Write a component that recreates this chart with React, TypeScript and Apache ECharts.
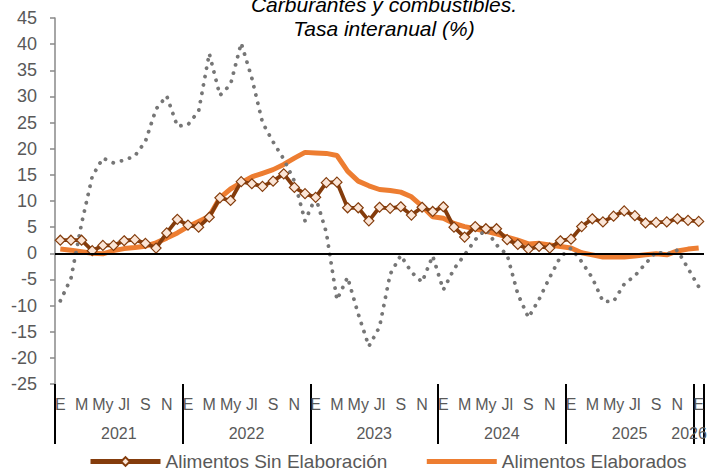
import React, { useEffect, useRef } from "react";
import * as echarts from "echarts";

const monthNames = ["E", "F", "M", "A", "My", "Jn", "Jl", "Ag", "S", "O", "N", "D"];
const years = ["2021", "2022", "2023", "2024", "2025", "2026"];
const categories: string[] = [];
for (let y = 0; y < 5; y++) for (let m = 0; m < 12; m++) categories.push(monthNames[m]);
categories.push("E");

const sinElaboracion = [
  2.5, 2.5, 2.5, 0.5, 1.5, 1.5, 2.4, 2.6, 1.9, 1.0, 3.9, 6.5,
  5.4, 5.0, 6.9, 10.6, 10.1, 13.7, 13.3, 12.8, 13.8, 15.2, 12.6, 11.4,
  10.7, 13.5, 13.6, 8.7, 8.7, 6.2, 8.8, 8.6, 8.9, 7.3, 8.8, 8.0,
  8.9, 5.0, 3.1, 5.1, 4.7, 4.7, 2.6, 1.7, 0.8, 1.3, 1.0, 2.4,
  2.7, 5.1, 6.6, 6.0, 7.1, 8.1, 7.2, 5.8, 5.9, 6.0, 6.6, 6.3,
  6.1,
];

const elaborados = [
  0.8, 0.6, 0.3, 0.0, -0.1, 0.5, 0.9, 1.1, 1.35, 2.0, 2.9, 3.9,
  5.1, 6.1, 7.1, 10.6, 12.3, 13.5, 14.6, 15.3, 16.0, 17.0, 18.2, 19.3,
  19.2, 19.1, 18.7, 15.7, 13.8, 12.9, 12.2, 12.0, 11.7, 10.8, 9.0, 7.0,
  6.7, 5.7, 5.1, 4.7, 4.2, 3.7, 3.1, 2.5, 1.8, 1.9, 1.6, 1.3,
  1.0, 0.1, -0.3, -0.7, -0.7, -0.7, -0.5, -0.3, -0.1, -0.3, 0.45, 0.8,
  1.0,
];

const carburantes = [
  -9.1, -4.8, 5.7, 14.7, 18.2, 17.3, 17.8, 18.6, 21.4, 27.6, 30.1, 24.3,
  24.6, 27.2, 38.2, 30.2, 32.3, 40.2, 33.5, 25.0, 21.3, 18.0, 13.8, 6.2,
  10.7, 4.0, -8.9, -4.6, -11.6, -17.8, -14.1, -4.0, -0.4, -3.6, -5.5, -0.5,
  -7.0, -3.0, -0.3, 2.6, 4.6, 1.6, -0.3, -7.8, -12.3, -8.8, -4.6, -0.7,
  1.0, -1.6, -4.7, -9.2, -9.2, -5.9, -4.3, -2.0, 0.3, -0.2, 0.6, -2.9,
  -6.4,
];

const yearTicks = [0, 12, 24, 36, 48, 60, 61];
const yearLabelPos = [6, 18, 30, 42, 54, 59.6];

const FONT = "Liberation Sans, Arial, sans-serif";
const GREY_TEXT = "#595959";

export default function App() {
  const ref = useRef<HTMLDivElement>(null);
  useEffect(() => {
    if (!ref.current) return;
    const chart = echarts.init(ref.current, null, { renderer: "svg" });
    const option: any = {
      animation: false,
      backgroundColor: "#ffffff",
      textStyle: { fontFamily: FONT },
      title: {
        text: "Carburantes y combustibles.\nTasa interanual (%)",
        left: 384,
        top: -8,
        textAlign: "center",
        padding: 0,
        textStyle: {
          fontFamily: FONT,
          fontStyle: "italic",
          fontWeight: "normal",
          fontSize: 21,
          lineHeight: 24,
          color: "#000000",
        },
      },
      grid: { left: 55, right: 8, top: 18, bottom: 88, containLabel: false },
      legend: {
        data: [
          { name: "Alimentos Sin Elaboración", lineStyle: { width: 5 } },
          { name: "Alimentos Elaborados", itemStyle: { opacity: 0 }, lineStyle: { width: 5 } },
        ],
        left: 88,
        top: 452,
        itemWidth: 70,
        itemHeight: 11,
        itemGap: 37,
        padding: 0,
        textStyle: { fontFamily: FONT, fontSize: 19, color: GREY_TEXT },
      },
      xAxis: [
        {
          type: "category",
          data: categories,
          position: "bottom",
          boundaryGap: true,
          axisLine: { show: false, onZero: false },
          axisTick: { show: false },
          splitLine: { show: false },
          axisLabel: {
            interval: 1,
            margin: 12,
            fontFamily: FONT,
            fontSize: 16,
            color: GREY_TEXT,
          },
        },
        {
          type: "value",
          position: "bottom",
          min: 0,
          max: 61,
          axisLine: { show: false, onZero: false },
          splitLine: { show: false },
          axisTick: {
            show: true,
            customValues: yearTicks,
            length: 60,
            lineStyle: { color: "#000000", width: 2 },
          },
          axisLabel: {
            customValues: yearLabelPos,
            margin: 41,
            fontFamily: FONT,
            fontSize: 16,
            color: GREY_TEXT,
            formatter: (v: number) => {
              const idx = yearLabelPos.indexOf(v);
              return idx >= 0 ? years[idx] : "";
            },
          },
        },
      ],
      yAxis: {
        type: "value",
        min: -25,
        max: 45,
        interval: 5,
        axisLine: { show: true, lineStyle: { color: "#898989", width: 1.5 } },
        axisTick: { show: true, length: 5, lineStyle: { color: "#898989", width: 1.5 } },
        splitLine: { show: false },
        axisLabel: { margin: 18, fontFamily: FONT, fontSize: 18, color: GREY_TEXT },
      },
      series: [
        {
          name: "Alimentos Elaborados",
          type: "line",
          data: elaborados,
          symbol: "none",
          lineStyle: { color: "#ed7d31", width: 5 },
          itemStyle: { color: "#ed7d31" },
          markLine: {
            silent: true,
            symbol: "none",
            label: { show: false },
            lineStyle: { color: "#000000", width: 2, type: "solid" },
            data: [{ yAxis: 0 }],
          },
        },
        {
          name: "Alimentos Sin Elaboración",
          type: "line",
          data: sinElaboracion,
          symbol: "diamond",
          symbolSize: 10,
          showAllSymbol: true,
          lineStyle: { color: "#843c0c", width: 3.8 },
          itemStyle: { color: "#fbe5d6", borderColor: "#843c0c", borderWidth: 1.2 },
        },
        {
          name: "Carburantes y combustibles",
          type: "line",
          data: carburantes,
          symbol: "none",
          lineStyle: { color: "#767676", width: 3.8, type: [0.1, 8.4], cap: "round" },
          itemStyle: { color: "#767676" },
        },
      ],
    };
    chart.setOption(option);
    return () => chart.dispose();
  }, []);
  return <div ref={ref} style={{ width: 712, height: 472, position: "absolute", left: 0, top: 0 }} />;
}
